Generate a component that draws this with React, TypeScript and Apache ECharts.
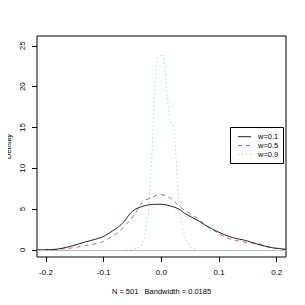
import React, { useEffect, useRef } from "react";
import * as echarts from "echarts";

const xTicks = [-0.2, -0.1, 0.0, 0.1, 0.2];
const xTickLabels = ["-0.2", "-0.1", "0.0", "0.1", "0.2"];
const yTicks = [0, 5, 10, 15, 20, 25];

const w01X = [-0.216, -0.2, -0.183, -0.16, -0.131, -0.102, -0.079, -0.07, -0.062, -0.055, -0.045, -0.032, -0.02, 0.0, 0.02, 0.032, 0.04, 0.066, 0.075, 0.09, 0.11, 0.127, 0.144, 0.167, 0.19, 0.216];
const w01Y = [0.01, 0.03, 0.08, 0.4, 1.0, 1.6, 2.6, 3.1, 3.7, 4.4, 5.0, 5.35, 5.55, 5.6, 5.3, 4.95, 4.5, 3.5, 3.1, 2.5, 1.85, 1.45, 1.2, 0.7, 0.3, 0.08];

const w05X = [-0.216, -0.2, -0.16, -0.131, -0.102, -0.073, -0.056, -0.045, -0.032, -0.015, -0.003, 0.01, 0.02, 0.032, 0.04, 0.066, 0.075, 0.11, 0.127, 0.15, 0.167, 0.19, 0.216];
const w05Y = [0.0, 0.02, 0.2, 0.55, 1.0, 2.25, 3.5, 4.5, 5.9, 6.5, 6.8, 6.6, 6.1, 5.3, 4.9, 3.7, 3.1, 1.6, 1.2, 0.9, 0.8, 0.3, 0.05];

const w09X = [-0.06, -0.049, -0.035, -0.029, -0.023, -0.019, -0.016, -0.0146, -0.0128, -0.0104, -0.0087, -0.006, 0.001, 0.0045, 0.0069, 0.0098, 0.0127, 0.0156, 0.02, 0.023, 0.0248, 0.0277, 0.033, 0.04, 0.049, 0.063];
const w09Y = [0.0, 0.05, 0.4, 1.6, 4.1, 8.2, 12.2, 15.1, 17.5, 20.4, 22.4, 23.5, 24.0, 23.7, 21.6, 19.2, 17.1, 15.7, 15.3, 14.3, 12.2, 8.2, 4.1, 1.6, 0.4, 0.0];

const legendLabels = ["w=0.1", "w=0.5", "w=0.9"];
const xAxisTitle = "N = 501   Bandwidth = 0.0185";
const yAxisTitle = "Density";

const pair = (xs: number[], ys: number[]) => xs.map((x, i) => [x, ys[i]]);

export default function App() {
  const ref = useRef<HTMLDivElement>(null);
  useEffect(() => {
    if (!ref.current) return;
    const chart = echarts.init(ref.current, null, { renderer: "svg" });
    const font = "Liberation Sans, Arial, Helvetica, sans-serif";
    const colors = ["#222222", "#DF536B", "#8ccbf0"];
    const legendColors = ["#222222", "#DF536B", "#9ad98e"];
    const dashes: any[] = ["solid", [4, 4], [1, 3]];
    const smooths: any[] = [0.25, 0.25, false];
    const lx = 230, ly = 127;
    const graphics: any[] = [
      { type: "rect", shape: { x: lx + 0.5, y: ly + 0.5, width: 53, height: 36 }, style: { fill: "#fff", stroke: "#000", lineWidth: 1 }, z: 100 },
      {
        type: "text",
        x: 161.5,
        y: 291,
        style: { text: xAxisTitle, font: `7.5px ${font}`, fill: "#000", align: "center", verticalAlign: "middle" },
      },
      {
        type: "text",
        x: 8.5,
        y: 146.5,
        rotation: Math.PI / 2,
        style: { text: yAxisTitle, font: `7.5px ${font}`, fill: "#000", align: "center", verticalAlign: "middle" },
      },
    ];
    legendLabels.forEach((lab, i) => {
      const yy = ly + 9.7 + i * 8.8;
      graphics.push({
        type: "line",
        shape: { x1: lx + 8, y1: yy, x2: lx + 21, y2: yy },
        style: { stroke: legendColors[i], lineWidth: 1, lineDash: dashes[i] === "solid" ? null : dashes[i] },
        z: 101,
      });
      graphics.push({
        type: "text",
        x: lx + 28,
        y: yy,
        style: { text: lab, font: `7.5px ${font}`, fill: "#000", verticalAlign: "middle" },
        z: 101,
      });
    });

    const mk = (name: string, data: number[][], i: number) => ({
      name,
      type: "line",
      data,
      smooth: smooths[i],
      showSymbol: false,
      symbol: "none",
      clip: true,
      lineStyle: { color: colors[i], width: 1, type: dashes[i] },
      z: 3 - i,
    });

    chart.setOption({
      animation: false,
      textStyle: { fontFamily: font },
      grid: { left: 37, right: 19, top: 36, bottom: 48, containLabel: false, outerBoundsMode: "none", show: true, borderColor: "#000", borderWidth: 1, backgroundColor: "transparent" },
      xAxis: {
        type: "value",
        min: -0.2156,
        max: 0.2161,
        splitLine: { show: false },
        axisLine: { show: false, onZero: false },
        axisTick: { show: true, length: 5, lineStyle: { color: "#000" }, customValues: xTicks },
        axisLabel: {
          color: "#000",
          fontSize: 8,
          margin: 11,
          customValues: xTicks,
          formatter: (v: number) => xTickLabels[xTicks.findIndex((t) => Math.abs(t - v) < 1e-9)] ?? "",
        },
      },
      yAxis: {
        type: "value",
        min: -0.86,
        max: 26.2,
        splitLine: { show: false },
        axisLine: { show: false, onZero: false },
        axisTick: { show: true, length: 5, lineStyle: { color: "#000" }, customValues: yTicks },
        axisLabel: { color: "#000", fontSize: 8, rotate: 90, margin: 11, customValues: yTicks },
      },
      series: [
        {
          ...mk(legendLabels[0], pair(w01X, w01Y), 0),
          markLine: {
            silent: true,
            symbol: "none",
            label: { show: false },
            lineStyle: { color: "#bbbbbb", type: "solid", width: 1 },
            data: [{ yAxis: 0 }],
          },
        },
        mk(legendLabels[1], pair(w05X, w05Y), 1),
        mk(legendLabels[2], pair(w09X, w09Y), 2),
      ],
      graphic: graphics,
    });
    return () => chart.dispose();
  }, []);
  return <div ref={ref} style={{ width: 305, height: 305, margin: -8 }} />;
}
